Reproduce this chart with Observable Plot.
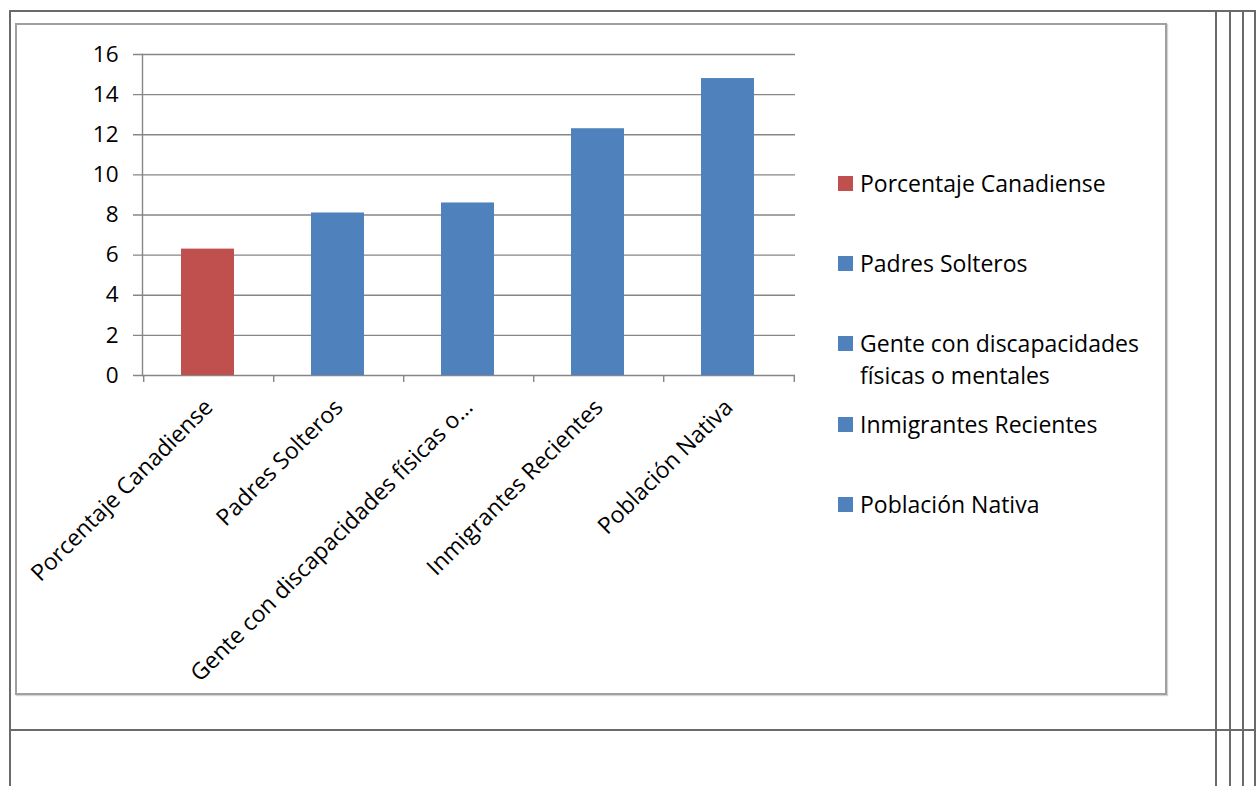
<!DOCTYPE html>
<html><head><meta charset="utf-8">
<script src="https://cdn.jsdelivr.net/npm/d3@7"></script>
<script src="https://cdn.jsdelivr.net/npm/@observablehq/plot@0.6"></script>
<style>
body{margin:0;background:#fff;font-family:"Open Sans", sans-serif;}
#page{position:relative;width:1256px;height:786px;overflow:hidden;background:#fff;}
.ln{position:absolute;background:#6a6a6a;}
#box{position:absolute;left:15px;top:23px;width:1148px;height:668px;border:2px solid #a0a0a0;box-shadow:1px 1px 1px #d4d4d4;}
#chart{position:absolute;left:0;top:0;}
.leg{position:absolute;left:838px;font-size:23px;color:#000;}
.sw{position:absolute;left:0;top:0;width:15px;height:15px;}
.lt{position:absolute;left:22px;width:300px;line-height:32px;white-space:normal;}
</style></head><body>
<div id="page">
  <div class="ln" style="left:9px;top:10px;width:1247px;height:2px"></div>
  <div class="ln" style="left:9px;top:10px;width:2px;height:776px"></div>
  <div class="ln" style="left:9px;top:729px;width:1247px;height:2px"></div>
  <div class="ln" style="left:1215px;top:10px;width:2px;height:776px"></div>
  <div class="ln" style="left:1229px;top:10px;width:2px;height:776px"></div>
  <div class="ln" style="left:1242px;top:10px;width:2px;height:776px"></div>
  <div class="ln" style="left:1254px;top:10px;width:2px;height:776px"></div>
  <div id="box"></div>
  <div id="chart"></div>
  <div id="legend"></div>
</div>
<script>
const categories = ["Porcentaje Canadiense","Padres Solteros","Gente con discapacidades físicas o mentales","Inmigrantes Recientes","Población Nativa"];
const tickLabels = ["Porcentaje Canadiense","Padres Solteros","Gente con discapacidades físicas o…","Inmigrantes Recientes","Población Nativa"];
const values = [6.3, 8.1, 8.6, 12.3, 14.8];
const colors = ["#C0504D","#4F81BD","#4F81BD","#4F81BD","#4F81BD"];
const yTicks = [0,2,4,6,8,10,12,14,16];

const data = categories.map((c,i)=>({cat:c, value:values[i], color:colors[i]}));
const W = 800, H = 700, mL = 142, mR = 5, mT = 54, mB = H - 375;
const step = (W - mL - mR) / categories.length;
const gridColor = "#868686";

const chart = Plot.plot({
  width: W, height: H,
  marginLeft: mL, marginRight: mR, marginTop: mT, marginBottom: mB,
  style: {background: "transparent", fontFamily: "'Open Sans', sans-serif", color: "#000", overflow: "visible"},
  x: {domain: categories, paddingInner: 0.594, paddingOuter: 0.297, label: null},
  y: {domain: [0,16], label: null},
  marks: [
    Plot.gridY(yTicks, {stroke: gridColor, strokeOpacity: 1, strokeWidth: 1.4, insetLeft: -9}),
    Plot.barY(data, {x: "cat", y: "value", fill: "color", dx: -1}),
    Plot.frame({anchor: "left", stroke: gridColor, strokeWidth: 1.4}),
    Plot.ruleX(categories, {x: d=>d, dx: -step/2, y1: 0, y2: 0, insetBottom: -7, stroke: gridColor, strokeWidth: 1.4}),
    Plot.ruleX(categories.slice(-1), {x: d=>d, dx: step/2, y1: 0, y2: 0, insetBottom: -7, stroke: gridColor, strokeWidth: 1.4}),
    Plot.axisY(yTicks, {tickSize: 0, tickPadding: 24, fontSize: 22.5, label: null}),
    Plot.axisX({tickSize: 0, tickRotate: -45, tickPadding: 28, fontSize: 23, label: null, dx: 0,
      tickFormat: d => tickLabels[categories.indexOf(d)]})
  ]
});
document.getElementById("chart").appendChild(chart);

const legend = document.getElementById("legend");
categories.forEach((c,i)=>{
  const item = document.createElement("div");
  item.className = "leg";
  item.style.top = (176 + 80.2*i) + "px";
  const sw = document.createElement("div");
  sw.className = "sw"; sw.style.background = colors[i];
  const t = document.createElement("div");
  t.className = "lt"; t.style.top = "-9px"; t.textContent = c;
  item.appendChild(sw); item.appendChild(t);
  legend.appendChild(item);
});
</script>
</body></html>
